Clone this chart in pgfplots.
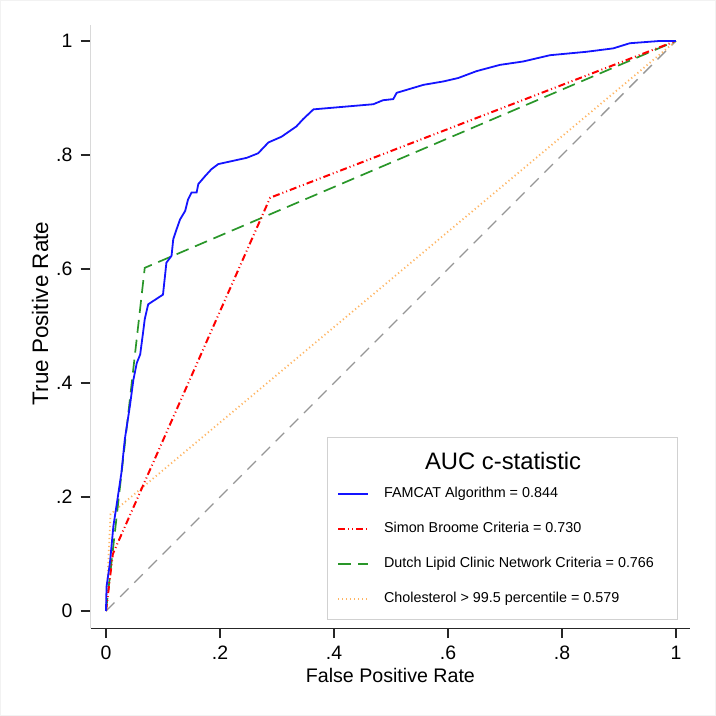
\documentclass[border=0pt]{standalone}
\usepackage{fontspec}
\setmainfont{Liberation Sans}
\usepackage{pgfplots}
\pgfplotsset{compat=1.18}
\definecolor{famblue}{rgb}{0.08,0.08,1}
\definecolor{sbred}{rgb}{1,0,0}
\definecolor{dlgreen}{rgb}{0.16,0.59,0.16}
\definecolor{cholor}{rgb}{1,0.71,0.39}
\definecolor{diaggray}{rgb}{0.59,0.59,0.59}
\tikzset{
  famstyle/.style={draw=famblue, line width=1.8bp, solid},
  sbstyle/.style={draw=sbred, line width=2bp, dash pattern=on 7bp off 3bp on 1bp off 3bp on 1bp off 3bp},
  dlstyle/.style={draw=dlgreen, line width=1.7bp, dash pattern=on 13bp off 7bp},
  chstyle/.style={draw=cholor, line width=1.8bp, dash pattern=on 1.2bp off 2.8bp},
}
\begin{document}
\begin{tikzpicture}
\useasboundingbox (-90.6bp,-87.9bp) rectangle (625.4bp,628.1bp);
\draw[black!5, line width=1bp] (-90.1bp,-87.4bp) rectangle (624.9bp,627.6bp);
\begin{axis}[
  scale only axis,
  width=599.6bp, height=603.1bp,
  xmin=-0.027, xmax=1.025, ymin=-0.03, ymax=1.028,
  axis x line*=bottom, axis y line*=left,
  x axis line style={-, black!85, line width=1.2bp},
  y axis line style={-, black!15, line width=1bp},
  xtick={0,0.2,0.4,0.6,0.8,1}, xticklabels={0,.2,.4,.6,.8,1},
  ytick={0,0.2,0.4,0.6,0.8,1}, yticklabels={0,.2,.4,.6,.8,1},
  tick align=outside, major tick length=10bp,
  tick style={black!85, line width=1.2bp},
  /pgf/number format/assume math mode=true,
  xticklabel style={font=\fontsize{19.5}{22}\selectfont, inner sep=0pt, anchor=north, yshift=-8bp},
  yticklabel style={font=\fontsize{19.5}{22}\selectfont, inner sep=0pt, anchor=east, xshift=-8bp},
  xlabel={False Positive Rate}, ylabel={True Positive Rate},
  xlabel style={font=\fontsize{19.7}{22}\selectfont, inner sep=0pt, at={(axis description cs:0.5,-0.0778)}, anchor=center},
  ylabel style={font=\fontsize{22.5}{25}\selectfont, inner sep=0pt, at={(axis description cs:-0.0844,0.5216)}, anchor=center, rotate=0},
  clip=false,
  legend cell align=left,
  legend style={at={(axis cs:0.387,0.3058)}, anchor=north west,
    draw=black!18, line width=1bp, fill=white,
    inner xsep=10bp, inner ysep=14.6bp,
    font=\fontsize{14.4}{17}\selectfont,
    nodes={inner sep=0pt, text height=10.5bp, text depth=3bp},
    row sep=21.5bp,
    /tikz/every odd column/.append style={column sep=15bp}},
]
\addplot[diaggray, line width=1.3bp, dash pattern=on 12bp off 8bp, forget plot] coordinates {(0,0) (1,1)};
\addplot[chstyle, forget plot] coordinates {
(0,0) (0.008,0.17) (1,1)};
\addplot[dlstyle, forget plot] coordinates {
(0,0) (0.068,0.602) (1,1)};
\addplot[sbstyle, forget plot] coordinates {
(0,0) (0.012,0.10) (0.288,0.725) (1,1)};
\addplot[famstyle, forget plot] coordinates {
(0,0) (0.001,0.043) (0.007,0.085) (0.013,0.149) (0.020,0.195) (0.027,0.242)
(0.033,0.301) (0.042,0.36) (0.048,0.405) (0.054,0.435) (0.06,0.45) (0.065,0.488)
(0.068,0.512) (0.074,0.538) (0.100,0.555) (0.106,0.611) (0.115,0.623) (0.118,0.652)
(0.124,0.670) (0.130,0.687) (0.139,0.702) (0.144,0.722) (0.150,0.734) (0.159,0.734)
(0.162,0.749) (0.174,0.763) (0.185,0.775) (0.197,0.784) (0.247,0.795) (0.267,0.803)
(0.285,0.822) (0.308,0.832) (0.334,0.850) (0.346,0.863) (0.364,0.880) (0.469,0.889)
(0.486,0.896) (0.504,0.898) (0.510,0.909) (0.557,0.923) (0.592,0.929) (0.618,0.935)
(0.650,0.947) (0.691,0.958) (0.732,0.964) (0.779,0.975) (0.843,0.981) (0.890,0.987)
(0.919,0.996) (0.972,1.0) (1,1)};
\addlegendimage{empty legend}
\addlegendentry{\hspace*{41bp}\raisebox{-7.4bp}{\fontsize{23.9}{26}\selectfont AUC c-statistic}}
\addlegendimage{legend image code/.code={\draw[famstyle, line width=2bp] (0bp,0bp) -- (30bp,0bp);}}
\addlegendentry{FAMCAT Algorithm = 0.844}
\addlegendimage{legend image code/.code={\draw[sbstyle, line width=2bp] (0bp,0bp) -- (30bp,0bp);}}
\addlegendentry{Simon Broome Criteria = 0.730}
\addlegendimage{legend image code/.code={\draw[dlstyle, line width=2bp] (0bp,0bp) -- (30bp,0bp);}}
\addlegendentry{Dutch Lipid Clinic Network Criteria = 0.766\hspace*{14bp}}
\addlegendimage{legend image code/.code={\draw[chstyle, line width=2bp] (0bp,0bp) -- (30bp,0bp);}}
\addlegendentry{Cholesterol > 99.5 percentile = 0.579}
\end{axis}
\end{tikzpicture}
\end{document}
